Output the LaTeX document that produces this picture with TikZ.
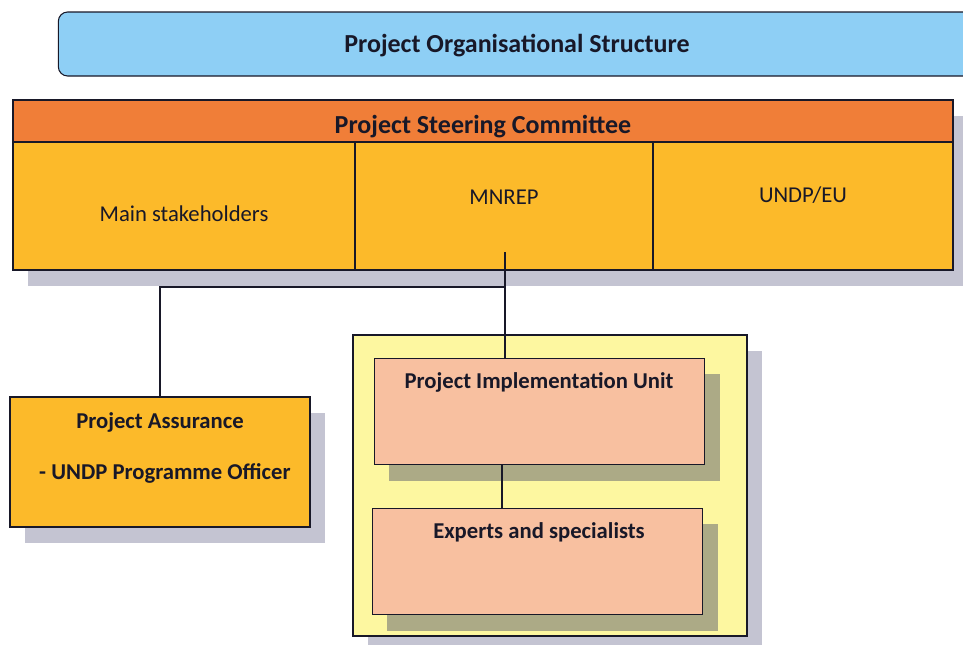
\documentclass[tikz,border=0pt]{standalone}
\usepackage{fontspec}
\setmainfont{Carlito}
\usepackage{tikz}
\usetikzlibrary{shadows}
\definecolor{bannerblue}{RGB}{142,207,245}
\definecolor{headorange}{RGB}{240,126,56}
\definecolor{cellgold}{RGB}{252,186,42}
\definecolor{frameyellow}{RGB}{253,247,160}
\definecolor{unitsalmon}{RGB}{248,192,160}
\definecolor{shadowgrey}{RGB}{196,196,210}
\definecolor{shadowolive}{RGB}{172,170,134}
\definecolor{inkdark}{RGB}{24,24,40}
\newcommand{\shiftby}[2]{\raisebox{#1}[\height][\depth]{#2}}
\tikzstyle{outer} = [general shadow={fill=shadowgrey, shadow xshift=11pt, shadow yshift=-12pt}]
\tikzstyle{banner} = [rectangle, rounded corners=7pt, draw=inkdark, thick, fill=bannerblue,
    minimum width=688pt, minimum height=48pt, text centered, font=\fontsize{19.5}{23}\selectfont\bfseries]
\tikzstyle{header} = [rectangle, draw=inkdark, thick, fill=headorange,
    minimum width=705pt, minimum height=31.5pt, text centered, font=\fontsize{19.5}{23}\selectfont\bfseries]
\tikzstyle{cell} = [rectangle, draw=inkdark, thick, fill=cellgold,
    minimum height=96pt, text centered, font=\fontsize{17}{20}\selectfont]
\tikzstyle{assure} = [rectangle, draw=inkdark, thick, fill=cellgold, outer,
    minimum width=225pt, minimum height=97.5pt]
\tikzstyle{frame} = [rectangle, draw=inkdark, line width=1pt, fill=frameyellow, outer,
    minimum width=295.5pt, minimum height=225.75pt]
\tikzstyle{unit} = [rectangle, draw=inkdark, thick, fill=unitsalmon,
    general shadow={fill=shadowolive, shadow xshift=11pt, shadow yshift=-12pt},
    minimum width=248pt, minimum height=80pt]
\tikzstyle{caption} = [text=inkdark, font=\fontsize{17}{20}\selectfont\bfseries]
\tikzstyle{line} = [draw=inkdark, line width=0.8pt]

\begin{document}
\begin{tikzpicture}[x=0.75pt, y=-0.75pt, text=inkdark]
                \useasboundingbox (0,0) rectangle (963,644);
                \clip (0,0) rectangle (963,644);

                \node (title) [banner] at (517,44) {\shiftby{-1.5pt}{Project Organisational Structure}};

                % steering committee with its shadow
                \fill [shadowgrey] (28,116) rectangle (968,286);
                \node (psc) [header] at (483,121) {\shiftby{-4.5pt}{Project Steering Committee}};
                \node (stake) [cell, minimum width=256.5pt] at (184,206) {\shiftby{-6pt}{Main stakeholders}};
                \node (mnrep) [cell, minimum width=223.5pt] at (504,206) {\shiftby{6.5pt}{MNREP}};
                \node (undp) [cell, minimum width=225pt] at (803,206) {\shiftby{8pt}{UNDP/EU}};

                \node (assurance) [assure] at (160,462) {};
                \node [caption] at (160,422) {Project Assurance};
                \node [caption] at (165,473) {- UNDP Programme Officer};

                \node (piubox) [frame] at (550,485.5) {};
                \node (piu) [unit] at (539.5,411.5) {};
                \node [caption] at (539,382) {Project Implementation Unit};
                \node (experts) [unit] at (537.5,561.5) {};
                \node [caption] at (539,532) {Experts and specialists};

                \coordinate (split) at (505,287);
                \draw [line] (split |- 0,252) -- (split) -| (assurance.north);
                \draw [line] (split) -- (split |- piu.north);
                \draw [line] (502,0 |- piu.south) -- (502,0 |- experts.north);
            \end{tikzpicture}
\end{document}
